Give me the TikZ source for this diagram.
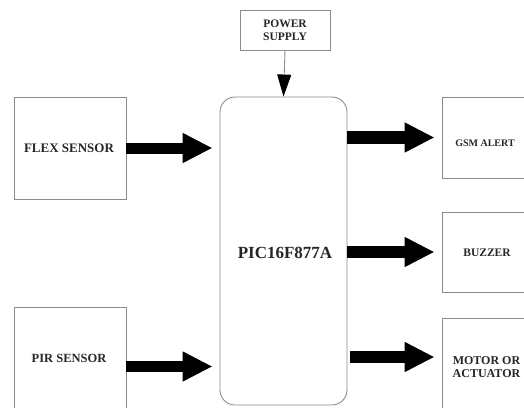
\documentclass[tikz,border=0pt]{standalone}
\usepackage{fontspec}
\setmainfont{Liberation Serif}
\usetikzlibrary{arrows.meta}
\tikzset{
  box/.style={draw=black!45, line width=0.9pt, fill=white, inner sep=0pt},
  txt/.style={font=\bfseries, text=black!85, inner sep=0pt, align=center},
  bigarrow/.style={line width=11pt, -{Triangle[length=30pt,width=28pt]}, black},
  outarrow/.style={line width=12.5pt, -{Triangle[length=30pt,width=28pt]}, black},
}
\begin{document}
\begin{tikzpicture}[x=1pt,y=-1pt]
\useasboundingbox (0,0) rectangle (524,407);
\clip (0,0) rectangle (524,407);
\fill[white] (0,0) rectangle (524,407);
% boxes
\node[box, minimum width=90pt, minimum height=40pt] (power) at (285,30) {};
\node[txt, font=\bfseries\fontsize{11.5}{13}\selectfont] (powertext) at (285,30) {POWER\\SUPPLY};
\node[box, rounded corners=15pt, minimum width=127pt, minimum height=308pt] (pic) at (283.5,251) {};
\node[txt, font=\bfseries\fontsize{17}{19}\selectfont] (pictext) at (285,253) {PIC16F877A};
\node[box, minimum width=112pt, minimum height=102pt] (flex) at (70,148) {};
\node[txt, font=\bfseries\fontsize{13}{15}\selectfont] (flextext) at (69,148) {FLEX SENSOR};
\node[box, minimum width=112pt, minimum height=113pt] (pir) at (70,363.5) {};
\node[txt, font=\bfseries\fontsize{12.5}{14}\selectfont] (pirtext) at (69,358) {PIR SENSOR};
\node[box, minimum width=98pt, minimum height=81pt] (gsm) at (491,137.5) {};
\node[txt, font=\bfseries\fontsize{10}{12}\selectfont] (gsmtext) at (485,143) {GSM ALERT};
\node[box, minimum width=98pt, minimum height=80pt] (buzzer) at (491,252) {};
\node[txt, font=\bfseries\fontsize{11.5}{13}\selectfont] (buzzertext) at (487,253) {BUZZER};
\node[box, minimum width=98pt, minimum height=112pt] (motor) at (491,374) {};
\node[txt, font=\bfseries\fontsize{12}{13}\selectfont] (motortext) at (486.5,367.5) {MOTOR OR\\ACTUATOR};
% connectors
\draw[black!45, line width=0.9pt, -{Triangle[length=22pt,width=14pt,black]}] (power.south) -- (pic.north);
\draw[bigarrow, shorten >=7pt] (flex.east) -- (flex.east -| pic.west);
\coordinate (pirout) at ([yshift=-3pt]pir.east);
\draw[bigarrow, shorten >=7pt] (pirout) -- (pirout -| pic.west);
\draw[outarrow, shorten >=7pt] (gsm.west -| pic.east) -- (gsm.west);
\draw[outarrow, shorten >=7pt] (buzzer.west -| pic.east) -- (buzzer.west);
\coordinate (motorin) at (350,357);
\draw[outarrow, shorten >=7pt] (motorin) -- (motorin -| motor.west);
\end{tikzpicture}
\end{document}
